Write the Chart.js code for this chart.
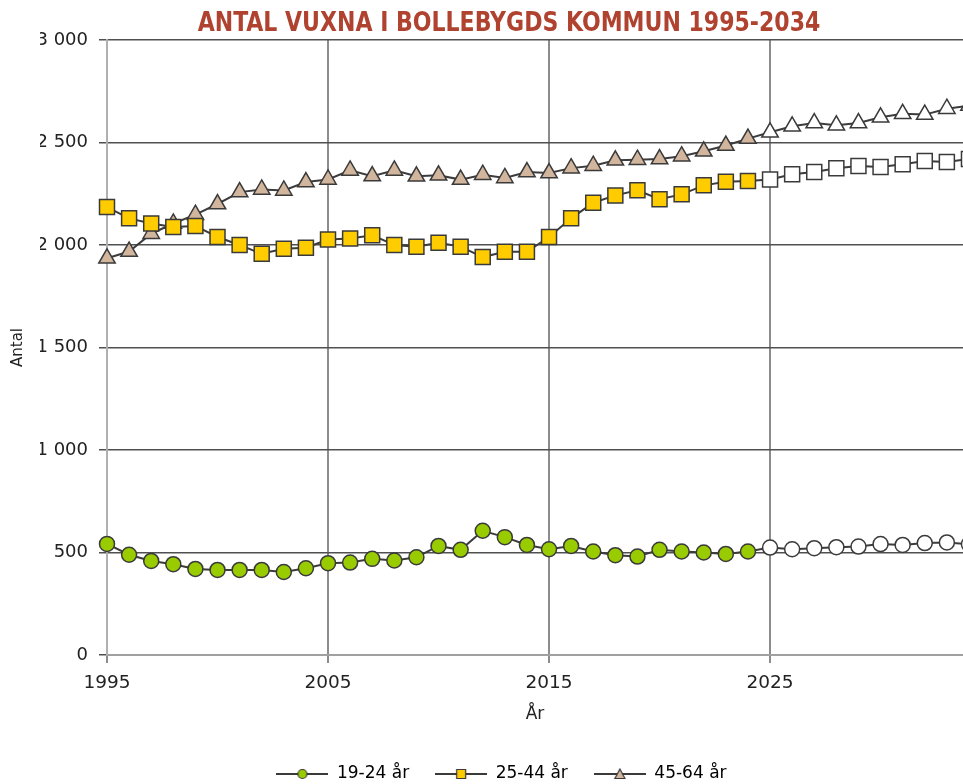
<!DOCTYPE html>
<html><head><meta charset="utf-8">
<script src="https://cdn.jsdelivr.net/npm/chart.js@4"></script>
<style>html,body{margin:0;padding:0;background:#fff;} canvas{display:block}</style>
</head><body>
<canvas id="c" width="963" height="784"></canvas>
<script>
const years = [1995,1996,1997,1998,1999,2000,2001,2002,2003,2004,2005,2006,2007,2008,2009,2010,2011,2012,2013,2014,2015,2016,2017,2018,2019,2020,2021,2022,2023,2024,2025,2026,2027,2028,2029,2030,2031,2032,2033,2034];
const tickYears = [1995, 2005, 2015, 2025];
const yTicks = [0, 500, 1000, 1500, 2000, 2500, 3000];
const seriesNames = ['19-24 år', '25-44 år', '45-64 år'];
const age19_24 = [542,489,459,443,420,415,415,415,405,423,448,451,469,461,477,532,513,606,575,537,516,532,505,487,480,513,505,500,493,505,524,516,521,526,529,541,537,546,549,540];
const age25_44 = [2185,2130,2105,2088,2093,2039,2000,1957,1982,1987,2027,2032,2048,2000,1992,2011,1992,1941,1967,1967,2039,2130,2206,2242,2267,2223,2247,2291,2308,2312,2320,2345,2356,2374,2385,2381,2394,2410,2405,2420];
const age45_64 = [1935,1968,2055,2105,2148,2200,2258,2271,2266,2307,2320,2364,2336,2364,2335,2340,2319,2343,2327,2356,2351,2375,2387,2413,2416,2419,2433,2457,2485,2519,2550,2579,2595,2584,2595,2623,2640,2636,2665,2680];
const projectionStart = 2025;
const chartTitle = 'ANTAL VUXNA I BOLLEBYGDS KOMMUN 1995-2034';

const seriesValues = [age19_24, age25_44, age45_64];
const styles = [
  {color:'#99CC00', style:'circle', r:7.5},
  {color:'#FFCC00', style:'rect', r:10.6},
  {color:'#D2B59D', style:'triangle', r:9.5}
];

function fmt(v){ return String(v).replace(/\B(?=(\d{3})+(?!\d))/g, ' '); }

function legendIcon(style, fill){
  const c = document.createElement('canvas'); c.width = 52; c.height = 14;
  const g = c.getContext('2d');
  g.strokeStyle = '#3a3a3a'; g.lineWidth = 2;
  g.beginPath(); g.moveTo(0,7); g.lineTo(52,7); g.stroke();
  g.fillStyle = fill; g.lineWidth = 1.2;
  g.beginPath();
  if (style === 'circle') { g.arc(26,7,4.5,0,Math.PI*2); }
  else if (style === 'rect') { g.rect(21.5,2.5,9,9); }
  else { g.moveTo(26,2); g.lineTo(31,11.5); g.lineTo(21,11.5); g.closePath(); }
  g.fill(); g.stroke();
  return c;
}
const icons = styles.map(s => legendIcon(s.style, s.color));

const datasets = seriesValues.map((vals, i) => ({
  label: seriesNames[i],
  data: years.map((yr, j) => ({x: yr, y: vals[j]})),
  borderColor: '#3c3c3c',
  borderWidth: 2,
  pointStyle: styles[i].style,
  pointRadius: styles[i].r,
  pointBackgroundColor: years.map(yr => yr >= projectionStart ? '#ffffff' : styles[i].color),
  pointBorderColor: '#3a3a3a',
  pointBorderWidth: 1.5,
  tension: 0,
  clip: {left: 14, top: 14, right: 14, bottom: 14}
}));

const titlePlugin = {
  id: 'narrowTitle',
  afterDraw(chart) {
    const ctx = chart.ctx;
    ctx.save();
    ctx.font = 'bold 27px "Liberation Sans Narrow", "DejaVu Sans Condensed", sans-serif';
    ctx.fillStyle = '#B0432F';
    ctx.textAlign = 'center';
    ctx.textBaseline = 'middle';
    ctx.translate(509, 24);
    ctx.scale(0.907, 1);
    ctx.fillText(chartTitle, 0, 0);
    ctx.restore();
  }
};

new Chart(document.getElementById('c'), {
  type: 'line',
  data: { datasets },
  plugins: [titlePlugin],
  options: {
    responsive: false,
    animation: false,
    devicePixelRatio: 1,
    layout: { autoPadding: false, padding: { left: 40, right: 0, top: 40, bottom: -8.5 } },
    plugins: {
      title: { display: false },
      legend: {
        position: 'bottom',
        labels: {
          usePointStyle: true,
          pointStyleWidth: 52,
          boxHeight: 14,
          padding: 26,
          color: '#222',
          font: { family: '"DejaVu Sans", sans-serif', size: 17 },
          generateLabels: chart => chart.data.datasets.map((ds, i) => ({
            text: ds.label, pointStyle: icons[i], datasetIndex: i,
            fillStyle: styles[i].color, strokeStyle: '#3a3a3a', lineWidth: 0, hidden: false
          }))
        }
      },
      tooltip: { enabled: false }
    },
    scales: {
      x: {
        type: 'linear',
        min: 1995,
        max: 2033.73,
        afterBuildTicks: s => { s.ticks = tickYears.map(v => ({value: v})); },
        afterFit: s => { s.height = 84.5; s.paddingLeft = 0; s.paddingRight = 0; },
        grid: { color: '#8c8c8c', lineWidth: 2, tickLength: 8 },
        border: { color: '#a0a0a0', width: 2 },
        ticks: { color: '#222', font: { family: '"DejaVu Sans", sans-serif', size: 18.5 }, padding: 9.5, maxRotation: 0, callback: v => String(v) },
        title: { display: true, text: 'År', color: '#222', font: { family: '"DejaVu Sans", sans-serif', size: 17 }, padding: { top: 2, bottom: 14.3 } }
      },
      y: {
        min: 0,
        max: 3000,
        afterBuildTicks: s => { s.ticks = yTicks.map(v => ({value: v})); },
        afterFit: s => { s.width = 67; },
        grid: { color: '#505050', lineWidth: 1.5, tickLength: 8 },
        border: { color: '#b0b0b0', width: 2 },
        ticks: { color: '#222', font: { family: '"DejaVu Sans", sans-serif', size: 18 }, padding: 11, callback: v => fmt(v) },
        title: { display: true, text: 'Antal', color: '#222', font: { family: '"DejaVu Sans", sans-serif', size: 15 }, padding: { top: -31, bottom: 0 } }
      }
    }
  }
});
</script>
</body></html>
